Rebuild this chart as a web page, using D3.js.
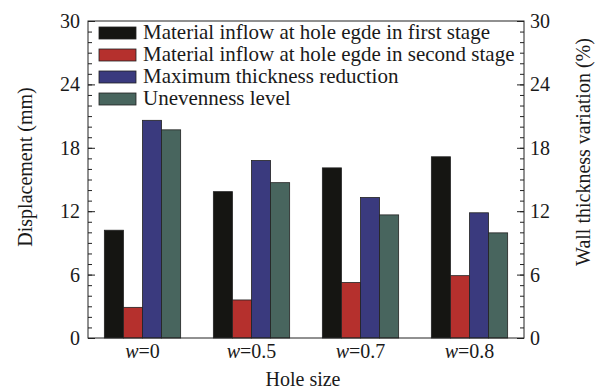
<!DOCTYPE html>
<html>
<head>
<meta charset="utf-8">
<script src="https://cdn.jsdelivr.net/npm/d3@7"></script>
<style>
body { margin: 0; background: #fff; }
text { font-family: "Liberation Serif", "Times New Roman", serif; fill: #1a1a1a; }
</style>
</head>
<body>
<div class="chart"></div>
<script>
var svgWidth = 600;
var svgHeight = 391;

var margin = { top: 21, right: 76, bottom: 53, left: 88 };
var width = svgWidth - margin.left - margin.right;
var height = svgHeight - margin.top - margin.bottom;

// data
var holeSizes = ["0", "0.5", "0.7", "0.8"];
var seriesNames = [
    "Material inflow at hole egde in first stage",
    "Material inflow at hole egde in second stage",
    "Maximum thickness reduction",
    "Unevenness level"
];
var inflowFirst = [10.2, 13.85, 16.1, 17.15];
var inflowSecond = [2.9, 3.6, 5.25, 5.9];
var thicknessReduction = [20.6, 16.8, 13.3, 11.85];
var unevenness = [19.7, 14.7, 11.65, 9.95];
var yTicks = [0, 6, 12, 18, 24, 30];

var colors = ["#151512", "#b5302d", "#3a3a7e", "#48655e"];
var allSeries = [inflowFirst, inflowSecond, thicknessReduction, unevenness];

var svg = d3.select(".chart")
    .append("svg")
    .attr("width", svgWidth)
    .attr("height", svgHeight);

var chartGroup = svg.append("g")
    .attr("transform", `translate(${margin.left}, ${margin.top})`);

var x0 = d3.scaleBand()
    .domain(holeSizes)
    .range([0, width])
    .paddingInner(0.3)
    .paddingOuter(0.15);

var x1 = d3.scaleBand()
    .domain(d3.range(seriesNames.length))
    .range([0, x0.bandwidth()]);

var y = d3.scaleLinear()
    .domain([0, 30])
    .range([height, 0]);

// bars
var groups = chartGroup.selectAll(".group")
    .data(holeSizes)
    .enter()
    .append("g")
    .attr("transform", d => `translate(${x0(d)}, 0)`);

groups.selectAll("rect")
    .data((d, i) => allSeries.map((s, k) => ({ k: k, v: s[i] })))
    .enter()
    .append("rect")
    .attr("x", d => x1(d.k))
    .attr("width", x1.bandwidth())
    .attr("y", d => y(d.v))
    .attr("height", d => height - y(d.v))
    .attr("fill", d => colors[d.k])
    .attr("stroke", "#222")
    .attr("stroke-width", 0.8);

// inward ticks, left and right
var minorTicks = d3.range(0, 31, 1);
var leftAxis = d3.axisRight(y).tickValues(minorTicks).tickSize(4).tickFormat("");
var rightAxis = d3.axisLeft(y).tickValues(minorTicks).tickSize(4).tickFormat("");
var leftMajor = d3.axisRight(y).tickValues(yTicks).tickSize(7).tickFormat("");
var rightMajor = d3.axisLeft(y).tickValues(yTicks).tickSize(7).tickFormat("");

[leftAxis, leftMajor].forEach(function(a) {
    chartGroup.append("g").call(a).call(g => g.select(".domain").remove());
});
[rightAxis, rightMajor].forEach(function(a) {
    chartGroup.append("g").attr("transform", `translate(${width}, 0)`)
        .call(a).call(g => g.select(".domain").remove());
});
chartGroup.selectAll(".tick line").attr("stroke", "#222");

// frame
chartGroup.append("rect")
    .attr("width", width)
    .attr("height", height)
    .attr("fill", "none")
    .attr("stroke", "#222")
    .attr("stroke-width", 1);

// tick labels
chartGroup.selectAll(".ylabL")
    .data(yTicks)
    .enter()
    .append("text")
    .attr("x", -8)
    .attr("y", d => y(d))
    .attr("dy", "0.35em")
    .attr("text-anchor", "end")
    .style("font-size", "20px")
    .text(d => d);

chartGroup.selectAll(".ylabR")
    .data(yTicks)
    .enter()
    .append("text")
    .attr("x", width + 6)
    .attr("y", d => y(d))
    .attr("dy", "0.35em")
    .style("font-size", "20px")
    .text(d => d);

var xLabels = chartGroup.selectAll(".xlab")
    .data(holeSizes)
    .enter()
    .append("text")
    .attr("x", d => x0(d) + x0.bandwidth() / 2)
    .attr("y", height + 20)
    .attr("text-anchor", "middle")
    .style("font-size", "20px");
xLabels.append("tspan").style("font-style", "italic").text("w");
xLabels.append("tspan").text(d => "=" + d);

// axis titles
chartGroup.append("text")
    .attr("x", width / 2 - 3)
    .attr("y", height + 48)
    .attr("text-anchor", "middle")
    .style("font-size", "20px")
    .text("Hole size");

svg.append("text")
    .attr("transform", "translate(32, 167) rotate(-90)")
    .attr("text-anchor", "middle")
    .style("font-size", "20px")
    .text("Displacement (mm)");

svg.append("text")
    .attr("transform", "translate(590, 152) rotate(-90)")
    .attr("text-anchor", "middle")
    .style("font-size", "20px")
    .text("Wall thickness variation (%)");

// legend
var legend = chartGroup.selectAll(".legend")
    .data(seriesNames)
    .enter()
    .append("g")
    .attr("transform", (d, i) => `translate(11, ${6 + i * 22})`);

legend.append("rect")
    .attr("width", 37)
    .attr("height", 12)
    .attr("fill", (d, i) => colors[i])
    .attr("stroke", "#222")
    .attr("stroke-width", 0.8);

legend.append("text")
    .attr("x", 44)
    .attr("y", 12)
    .style("font-size", "21px")
    .text(d => d);
</script>
</body>
</html>
